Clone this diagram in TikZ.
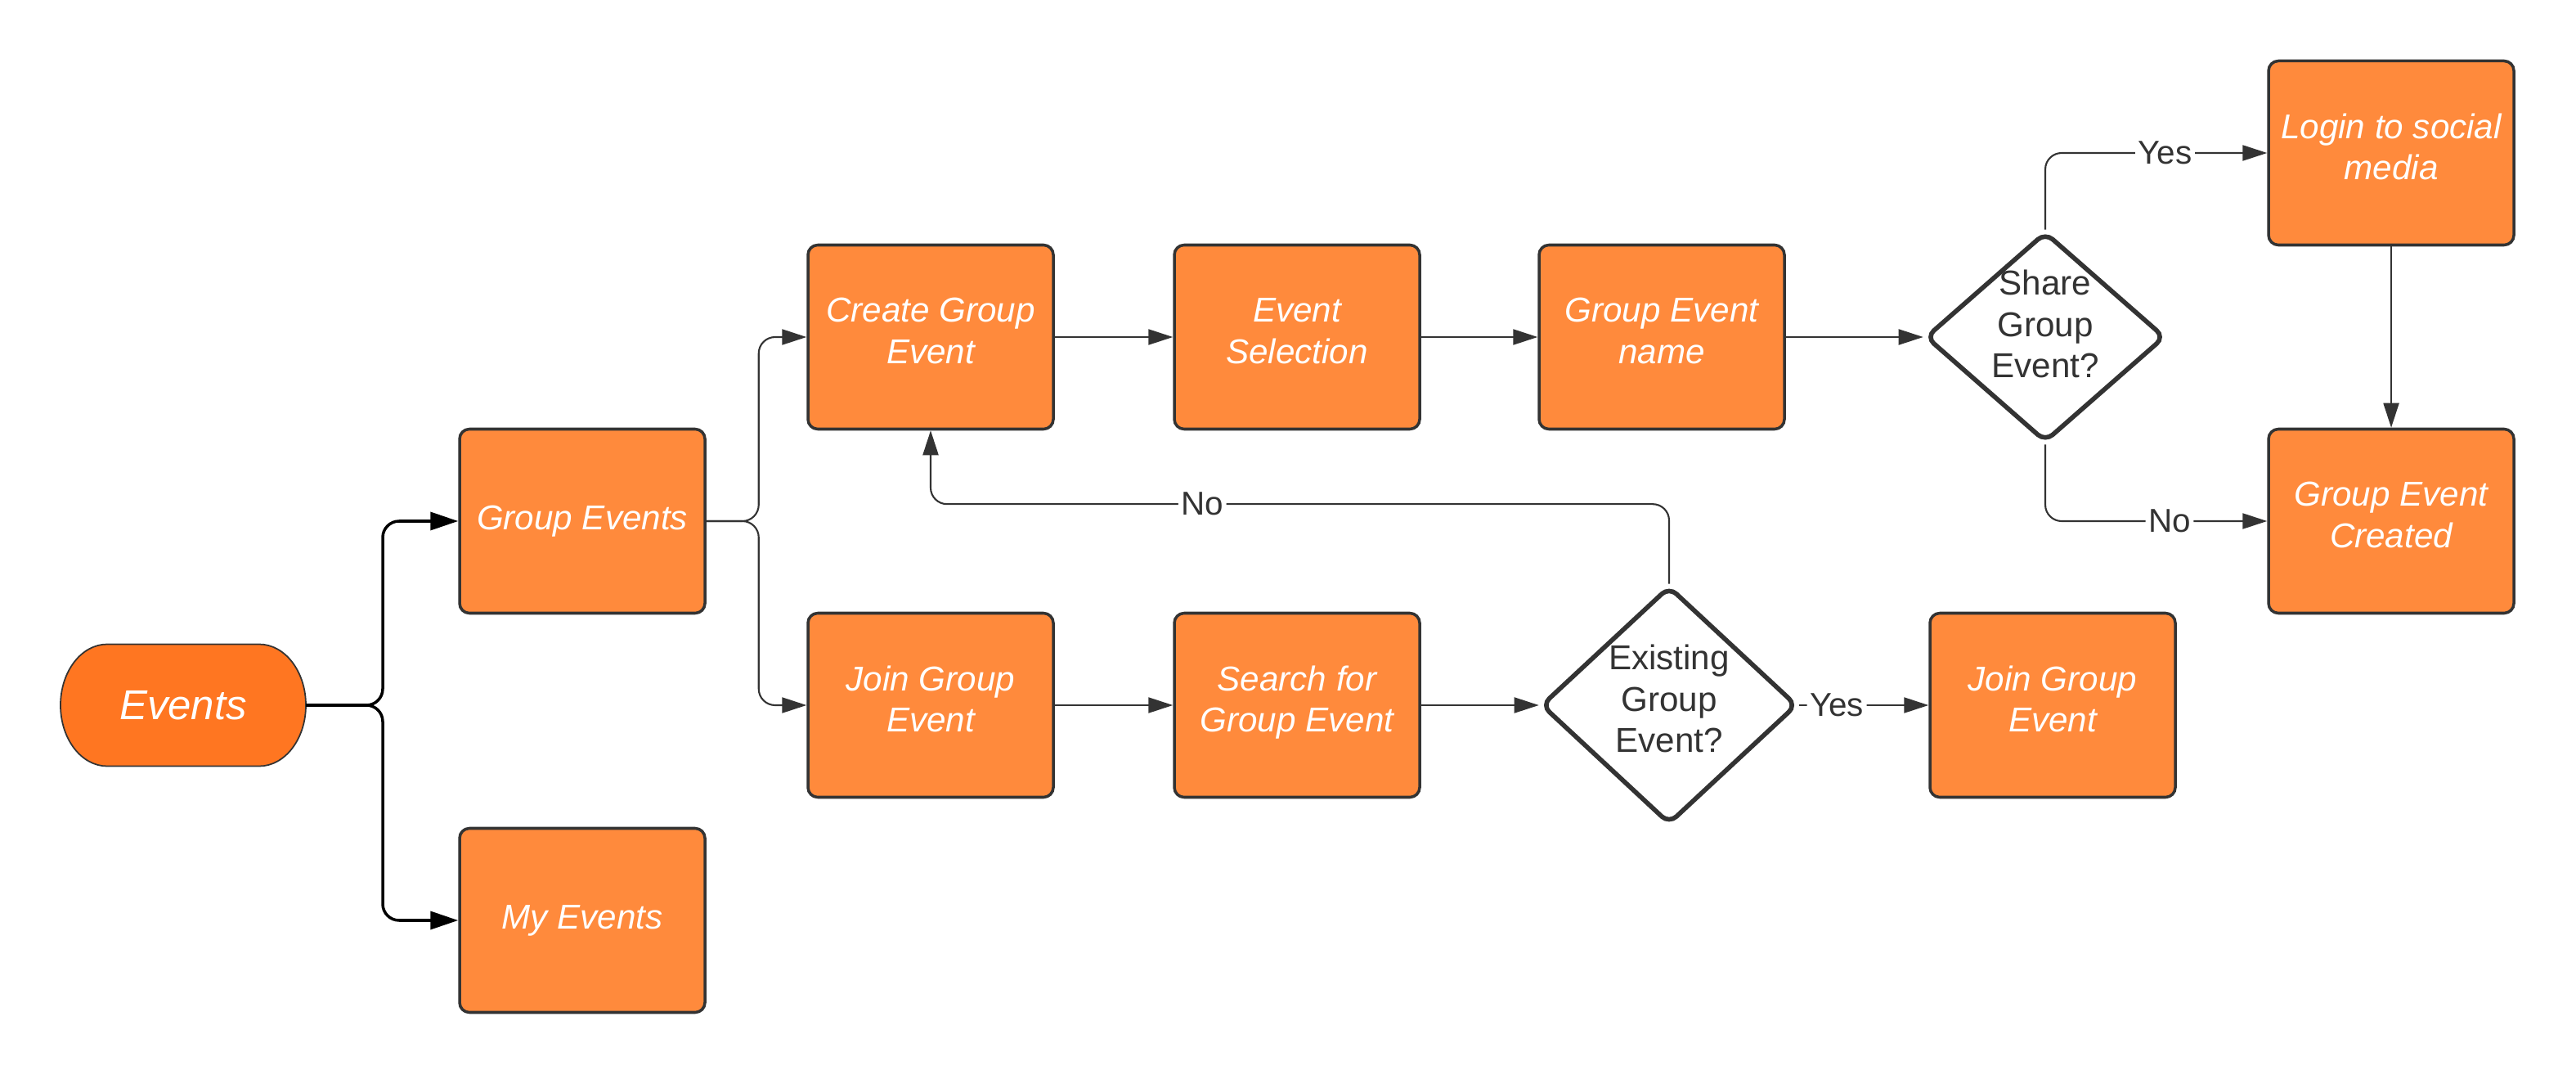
\documentclass[tikz,border=0pt]{standalone}
\usepackage{fontspec}
\setmainfont{Liberation Sans}
\usetikzlibrary{arrows.meta, shapes.geometric, backgrounds}

\definecolor{boxorange}{HTML}{FF8A3C}
\definecolor{startorange}{HTML}{FF7621}
\definecolor{linegray}{HTML}{333333}

\begin{document}
\begin{tikzpicture}[
    stepbox/.style={rectangle, rounded corners=0.12cm, draw=linegray, line width=1pt, fill=boxorange,
        minimum width=3cm, minimum height=2.25cm, text=white, align=center,
        font=\fontsize{12}{14.4}\selectfont\itshape,
        execute at begin node={\strut}, execute at end node={\strut}},
    starttext/.style={rectangle, outer sep=0pt, minimum width=3cm, minimum height=1.49cm, text=white,
        font=\fontsize{14.5}{17}\selectfont\itshape},
    decision/.style={diamond, rounded corners=0.12cm, draw=linegray, line width=1.6pt, fill=white,
        inner sep=0pt},
    decisiontext/.style={text=linegray, align=center, inner sep=0pt, font=\fontsize{12}{14.4}\selectfont},
    flow/.style={draw=linegray, line width=0.6pt, rounded corners=0.2cm, -{Triangle[length=0.3cm,width=0.19cm]}},
    mainflow/.style={draw=black, line width=1pt, rounded corners=0.2cm, -{Triangle[length=0.34cm,width=0.22cm]}},
    answer/.style={fill=white, inner sep=1pt, text=linegray, font=\fontsize{11.5}{13.8}\selectfont}]
    \useasboundingbox (0,0) rectangle (31.5,13.13);

    % start terminal
    \node[starttext] (events) at (2.24,4.51) {Events};
    \begin{scope}[on background layer]
        \filldraw[fill=startorange, draw=linegray, line width=0.5pt]
            ([xshift=0.57cm]events.north west) -- ([xshift=-0.57cm]events.north east)
            arc[start angle=90, end angle=-90, x radius=0.57cm, y radius=0.745cm]
            -- ([xshift=0.57cm]events.south west)
            arc[start angle=270, end angle=90, x radius=0.57cm, y radius=0.745cm] -- cycle;
    \end{scope}

    % steps
    \node[stepbox] at (7.12,6.76) (group) {Group Events};
    \node[stepbox] at (7.12,1.88) (myev) {My Events};
    \node[stepbox] at (11.38,9.01) (create) {Create Group\\Event};
    \node[stepbox] at (11.38,4.51) (join) {Join Group\\Event};
    \node[stepbox] at (15.86,9.01) (select) {Event\\Selection};
    \node[stepbox] at (15.86,4.51) (search) {Search for\\Group Event};
    \node[stepbox] at (20.32,9.01) (name) {Group Event\\name};
    \node[stepbox] at (25.10,4.51) (joined) {Join Group\\Event};
    \node[stepbox] at (29.24,11.26) (login) {Login to social\\media};
    \node[stepbox] at (29.24,6.76) (created) {Group Event\\Created};

    % decisions
    \node[decision, minimum width=3.13cm, minimum height=2.91cm] at (20.41,4.51) (exist) {};
    \node[decisiontext] at ([yshift=0.08cm]exist.center) (existtext) {Existing\\Group\\Event?};
    \node[decision, minimum width=2.93cm, minimum height=2.57cm] at (25.01,9.01) (share) {};
    \node[decisiontext] at ([yshift=0.16cm]share.center) (sharetext) {Share\\Group\\Event?};

    % connectors
    \draw[mainflow] (events.east) -- ++(0.94,0) |- (group.west);
    \draw[mainflow] (events.east) -- ++(0.94,0) |- (myev.west);
    \draw[flow] (group.east) -- ++(0.64,0) |- (create.west);
    \draw[flow] (group.east) -- ++(0.64,0) |- (join.west);
    \draw[flow] (create.east) -- (select.west);
    \draw[flow] (select.east) -- (name.west);
    \draw[flow] (name.east) -- (share.west);
    \draw[flow] (join.east) -- (search.west);
    \draw[flow] (search.east) -- (exist.west);
    \draw[flow] (share.north) |- node[answer, pos=0.77] {Yes} (login.west);
    \draw[flow] (share.south) |- node[answer, pos=0.78] {No} (created.west);
    \draw[flow] (login.south) -- (created.north);
    \draw[flow] (exist.east) -- node[answer, pos=0.29] {Yes} (joined.west);
    \draw[flow] (exist.north) -- ++(0,0.975) -| node[answer, pos=0.316] {No} (create.south);
\end{tikzpicture}
\end{document}
